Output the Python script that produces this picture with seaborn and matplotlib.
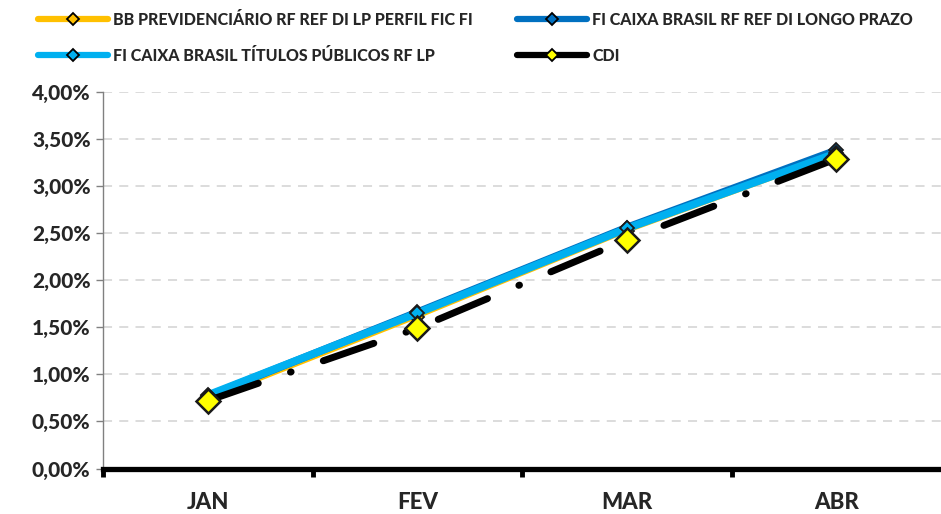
import numpy as np
import pandas as pd
import seaborn as sns
from matplotlib import pyplot as plt
from matplotlib.lines import Line2D
from matplotlib.ticker import FuncFormatter, FixedLocator

months = ["JAN", "FEV", "MAR", "ABR"]
bb_prev = [0.73, 1.61, 2.52, 3.33]
caixa_ref = [0.77, 1.66, 2.56, 3.38]
caixa_tit = [0.78, 1.65, 2.55, 3.35]
cdi = [0.72, 1.49, 2.43, 3.29]

series_names = [
    "BB PREVIDENCIÁRIO RF REF DI LP PERFIL FIC FI",
    "FI CAIXA BRASIL RF REF DI LONGO PRAZO",
    "FI CAIXA BRASIL TÍTULOS PÚBLICOS RF LP",
    "CDI",
]

sns.set_theme(style="white")
plt.rcParams["font.family"] = ["Lato", "DejaVu Sans"]

fig = plt.figure(figsize=(9.41, 5.14), dpi=100)
ax = fig.add_axes([0.1095, 0.0885, 0.8905, 0.7325])

x = np.arange(len(months))
df = pd.DataFrame({"x": x, "bb": bb_prev, "ref": caixa_ref, "tit": caixa_tit, "cdi": cdi})

yellow = "#FFC000"
dblue = "#0070C0"
lblue = "#00B0F0"

sns.lineplot(data=df, x="x", y="bb", ax=ax, color=yellow, lw=2.5, marker="D",
             markersize=7, markerfacecolor=yellow, markeredgecolor="#1a1a1a",
             markeredgewidth=1.3, zorder=3)
sns.lineplot(data=df, x="x", y="ref", ax=ax, color=dblue, lw=5.5, marker="D",
             markersize=7, markerfacecolor=dblue, markeredgecolor="#1a1a1a",
             markeredgewidth=1.3, zorder=4)
sns.lineplot(data=df, x="x", y="tit", ax=ax, color=lblue, lw=5.5, marker="D",
             markersize=7, markerfacecolor=lblue, markeredgecolor="#1a1a1a",
             markeredgewidth=1.3, zorder=5)
sns.lineplot(data=df, x="x", y="cdi", ax=ax, color="black", lw=5,
             linestyle=(0, (7.7, 4.9, 0.1, 4.9)), dash_capstyle="round",
             marker="D", markersize=12, markerfacecolor="#FFFF00",
             markeredgecolor="#1a1a1a", markeredgewidth=1.8, zorder=6)

ax.set_xlim(-0.5, 3.5)
ax.set_ylim(0, 4)
ax.set_xlabel("")
ax.set_ylabel("")

ax.set_yticks(np.arange(0, 4.01, 0.5))
ax.yaxis.set_major_formatter(FuncFormatter(lambda v, p: f"{v:.2f}%".replace(".", ",")))
ax.grid(axis="y", color="#D9D9D9", linestyle=(0, (5, 4)), linewidth=1.3)
ax.set_axisbelow(True)

ax.set_xticks(x)
ax.set_xticklabels(months)
ax.xaxis.set_minor_locator(FixedLocator([-0.5, 0.5, 1.5, 2.5]))
ax.tick_params(axis="x", which="major", length=0, pad=17, labelsize=16)
ax.tick_params(axis="x", which="minor", length=6, width=3.5, color="black",
               direction="out", bottom=True)
ax.tick_params(axis="y", which="major", length=5, width=1, color="#808080", labelsize=15,
               left=True, pad=4)

for s in ["top", "right"]:
    ax.spines[s].set_visible(False)
ax.spines["left"].set_color("#808080")
ax.spines["left"].set_linewidth(1)
ax.spines["bottom"].set_color("black")
ax.spines["bottom"].set_linewidth(3.8)

for lab in ax.get_xticklabels() + ax.get_yticklabels():
    lab.set_fontweight("black")

def legend_line(color, face):
    return Line2D([], [], color=color, lw=4.5, solid_capstyle="round", marker="D",
                  markersize=6, markerfacecolor=face,
                  markeredgecolor="black", markeredgewidth=1.3)

# matplotlib fills legend columns first, so reorder to get rows
handles = [legend_line(yellow, yellow), legend_line(lblue, lblue),
           legend_line(dblue, dblue), legend_line("black", "#FFFF00")]
labels = [series_names[0], series_names[2], series_names[1], series_names[3]]
leg = fig.legend(handles, labels, loc="upper left", bbox_to_anchor=(0.04, 0.977),
                 ncol=2, frameon=False, handlelength=4.4, borderpad=0, borderaxespad=0,
                 handletextpad=0.3, columnspacing=2.8, labelspacing=1.25,
                 prop={"weight": "black", "size": 11.5})

fig.savefig("out.png", dpi=100)
